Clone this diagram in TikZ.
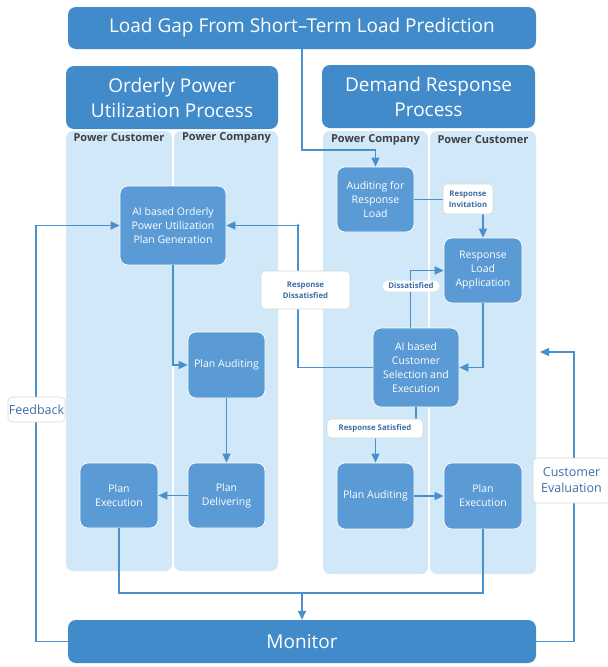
\documentclass[tikz,border=0pt]{standalone}
\usepackage{fontspec}
\setmainfont{Open Sans}
\usetikzlibrary{arrows.meta,calc}
\definecolor{hdrblue}{RGB}{66,139,202}
\definecolor{procblue}{RGB}{91,155,213}
\definecolor{lanefill}{RGB}{208,232,247}
\definecolor{lineblue}{RGB}{74,144,205}
\definecolor{lbltext}{RGB}{61,110,168}
\definecolor{lanetext}{RGB}{64,64,64}
\definecolor{lblborder}{RGB}{215,215,215}
\tikzset{
  hdr/.style={rounded corners=8pt, fill=hdrblue, text=white, align=center, inner sep=0pt,
    font=\fontsize{19}{25}\selectfont},
  lane/.style={rounded corners=7pt, fill=lanefill, inner sep=0pt},
  lanelbl/.style={text=lanetext, inner sep=0pt, font=\fontsize{11}{13}\selectfont\bfseries},
  proc/.style={rounded corners=8pt, fill=procblue, draw=white, line width=0.7pt, text=white,
    align=center, inner sep=0pt, font=\fontsize{10.5}{14}\selectfont},
  lbl/.style={rounded corners=4pt, fill=white, draw=lblborder, line width=0.6pt, text=lbltext,
    align=center, inner sep=0pt, font=\fontsize{7.8}{11}\selectfont\bfseries},
  biglbl/.style={lbl, font=\fontsize{12.5}{16}\selectfont},
  conn/.style={draw=lineblue, line width=1.4pt},
  arr/.style={conn, -{Triangle[length=9pt,width=8pt]}},
}
\begin{document}
\begin{tikzpicture}[x=1pt,y=-1pt]
\useasboundingbox (0,0) rectangle (608,667);

% headers
\node[hdr, minimum width=468, minimum height=42] (top) at (302,28) {Load Gap From Short–Term Load Prediction};
\node[hdr, minimum width=212, minimum height=63] (oph) at (172,97.5) {Orderly Power\\Utilization Process};
\node[hdr, minimum width=213, minimum height=63] (drh) at (428.5,96.5) {Demand Response\\Process};

% lanes
\node[lane, minimum width=106, minimum height=440] (l1) at (119,351) {};
\node[lane, minimum width=104, minimum height=440] (l2) at (226,351) {};
\node[lane, minimum width=105, minimum height=443] (l3) at (375.5,352.5) {};
\node[lane, minimum width=106, minimum height=443] (l4) at (483,352.5) {};
\node[lanelbl] (l1t) at (119,137.5) {Power Customer};
\node[lanelbl] (l2t) at (226.5,137.5) {Power Company};
\node[lanelbl] (l3t) at (375.5,140) {Power Company};
\node[lanelbl] (l4t) at (483,140) {Power Customer};

% process nodes
\node[proc, minimum width=106, minimum height=79] (aipg) at (173,225.5) {AI based Orderly\\Power Utilization\\Plan Generation};
\node[proc, minimum width=77, minimum height=66] (pa1) at (226.5,365) {Plan Auditing};
\node[proc, minimum width=77, minimum height=65] (pd) at (226.5,495.5) {Plan\\Delivering};
\node[proc, minimum width=78, minimum height=65] (pe1) at (119,495.5) {Plan\\Execution};
\node[proc, minimum width=77, minimum height=65] (arl) at (375.5,199.5) {Auditing for\\Response\\Load};
\node[proc, minimum width=78, minimum height=65] (rla) at (483,270.5) {Response\\Load\\Application};
\node[proc, minimum width=86, minimum height=79] (aics) at (416,367.5) {AI based\\Customer\\Selection and\\Execution};
\node[proc, minimum width=77, minimum height=66] (pa2) at (375.5,496) {Plan Auditing};
\node[proc, minimum width=78, minimum height=66] (pe2) at (483,496) {Plan\\Execution};

\node[hdr, minimum width=468, minimum height=43] (mon) at (302,641.5) {Monitor};

% coordinates
\coordinate (c1) at (302,150);
\coordinate (c2) at (298,225.5);
\coordinate (c3) at (302,593);
\coordinate (c4) at (36,641.5);
\coordinate (c5) at (574,641.5);
\coordinate (c6) at (540,352);

% connectors
\draw[arr] (top.south) -- (c1) -| (arl.north);
\draw[arr] (arl.east) -| (rla.north);
\draw[arr] (rla.south) |- (aics.east);
\draw[arr] (aics.north -| 410.5,0) |- (rla.west);
\draw[arr] (aics.west) -| (c2) -- (aipg.east);
\fill[lineblue] (c2) circle (1.6);
\draw[arr] (aipg.south) |- (pa1.west);
\draw[arr] (pa1) -- (pd);
\draw[arr] (pd) -- (pe1);
\draw[arr] (aics.south) |- (375.5,428.5) -- (pa2.north);
\draw[arr] (pa2) -- (pe2);
\draw[arr] (pe1.south) |- (c3) -- (mon.north);
\draw[conn] (pe2.south) |- (c3);
\draw[arr] (mon.west) -- (c4) |- (aipg.west);
\draw[arr] (mon.east) -- (c5) |- (c6);

% labels
\node[lbl, minimum width=50, minimum height=30] (inv) at (468,199) {Response\\Invitation};
\node[lbl, draw=none, rounded corners=5.5pt, minimum width=57, minimum height=11] (dis) at (411,286) {Dissatisfied};
\node[lbl, minimum width=89, minimum height=38] (rdis) at (305.5,290) {Response\\Dissatisfied};
\node[lbl, minimum width=96, minimum height=19] (rsat) at (375,428.5) {Response Satisfied};
\node[biglbl, minimum width=77, minimum height=45] (ce) at (571.5,480.5) {Customer\\Evaluation};
\node[biglbl, minimum width=57, minimum height=25] (fb) at (36.5,409.5) {Feedback};
\end{tikzpicture}
\end{document}
